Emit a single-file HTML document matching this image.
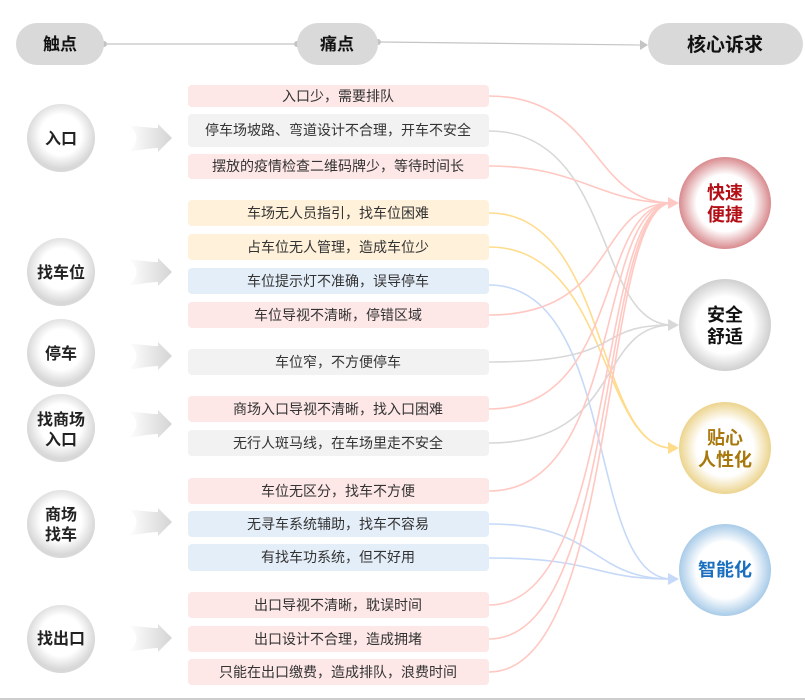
<!DOCTYPE html>
<html><head><meta charset="utf-8"><style>
html,body{margin:0;padding:0;background:#fff;}
svg{display:block;font-family:"Liberation Sans","Noto Sans CJK SC",sans-serif;}
</style></head><body>
<svg width="805" height="700" viewBox="0 0 805 700" xmlns="http://www.w3.org/2000/svg">
<defs>
<radialGradient id="gT" cx="50%" cy="45%" r="50%"><stop offset="60%" stop-color="#fff"/><stop offset="100%" stop-color="#d8d8d8"/></radialGradient>
<radialGradient id="gR" r="50%"><stop offset="62%" stop-color="#fff"/><stop offset="100%" stop-color="#d88a8e"/></radialGradient>
<radialGradient id="gG" r="50%"><stop offset="62%" stop-color="#fff"/><stop offset="100%" stop-color="#cfcfcf"/></radialGradient>
<radialGradient id="gY" r="50%"><stop offset="62%" stop-color="#fff"/><stop offset="100%" stop-color="#ecd48e"/></radialGradient>
<radialGradient id="gB" r="50%"><stop offset="62%" stop-color="#fff"/><stop offset="100%" stop-color="#a8cbe8"/></radialGradient>
<linearGradient id="ga" x1="0" x2="1"><stop offset="0" stop-color="#fff"/><stop offset="1" stop-color="#d4d4d4"/></linearGradient>
</defs>
<line x1="0" y1="699" x2="805" y2="699" stroke="#bbb" stroke-width="1.5"/>
<line x1="104" y1="44" x2="297" y2="44" stroke="#c4c4c4" stroke-width="1.2"/>
<circle cx="104" cy="44" r="3" fill="#c4c4c4"/><circle cx="297" cy="44" r="3" fill="#c4c4c4"/>
<line x1="378" y1="42" x2="640" y2="45" stroke="#c4c4c4" stroke-width="1.2"/>
<circle cx="378" cy="42" r="3" fill="#c4c4c4"/>
<polygon points="640,40 648,45 640,50" fill="#c4c4c4"/>
<rect x="16" y="23" width="88" height="42" rx="21" fill="#d9d9d9"/>
<rect x="297" y="23" width="81" height="42" rx="21" fill="#d9d9d9"/>
<rect x="648" y="23" width="155" height="42" rx="21" fill="#d9d9d9"/>
<g font-weight="bold" font-size="17" fill="#111" text-anchor="middle">
<text x="60" y="50">触点</text><text x="337" y="50">痛点</text><text x="725" y="51" font-size="19">核心诉求</text>
</g>
<g fill="none" stroke-width="1.6">
<path d="M489,96 C600,96 590,203 672,203" stroke="#ffc8c2"/>
<path d="M489,131 C615,131 595,325 672,325" stroke="#d8d8d8"/>
<path d="M489,166 C580,166 600,203 672,203" stroke="#ffc8c2"/>
<path d="M489,213 C610,213 595,448 672,448" stroke="#ffdc8c"/>
<path d="M489,247 C610,247 600,448 672,448" stroke="#ffdc8c"/>
<path d="M489,285 C620,285 585,579 672,579" stroke="#c6d9f8"/>
<path d="M489,315 C620,315 595,203 672,203" stroke="#ffc8c2"/>
<path d="M489,362 C630,362 590,325 672,325" stroke="#d8d8d8"/>
<path d="M489,409 C625,409 595,203 672,203" stroke="#ffc8c2"/>
<path d="M489,443 C625,443 595,325 672,325" stroke="#d8d8d8"/>
<path d="M489,491 C625,491 595,203 672,203" stroke="#ffc8c2"/>
<path d="M489,524 C600,524 590,579 672,579" stroke="#c6d9f8"/>
<path d="M489,558 C600,558 590,579 672,579" stroke="#c6d9f8"/>
<path d="M489,605 C620,605 595,203 672,203" stroke="#ffc8c2"/>
<path d="M489,639 C620,639 598,203 672,203" stroke="#ffc8c2"/>
<path d="M489,672 C620,672 600,203 672,203" stroke="#ffc8c2"/>
</g>
<polygon points="668,197 679,203 668,209" fill="#ffc8c2"/>
<polygon points="668,319 679,325 668,331" fill="#d8d8d8"/>
<polygon points="668,442 679,448 668,454" fill="#ffdc8c"/>
<polygon points="668,573 679,579 668,585" fill="#c6d9f8"/>
<g>
<rect x="188" y="85" width="301" height="22" rx="4" fill="#fde7e7"/>
<rect x="188" y="114" width="301" height="33" rx="4" fill="#f2f2f2"/>
<rect x="188" y="154" width="301" height="25" rx="4" fill="#fde7e7"/>
<rect x="188" y="200" width="301" height="26" rx="4" fill="#fff1da"/>
<rect x="188" y="234" width="301" height="26" rx="4" fill="#fff1da"/>
<rect x="188" y="268" width="301" height="26" rx="4" fill="#e4eef8"/>
<rect x="188" y="302" width="301" height="26" rx="4" fill="#fde7e7"/>
<rect x="188" y="349" width="301" height="26" rx="4" fill="#f2f2f2"/>
<rect x="188" y="396" width="301" height="26" rx="4" fill="#fde7e7"/>
<rect x="188" y="430" width="301" height="26" rx="4" fill="#f2f2f2"/>
<rect x="188" y="478" width="301" height="26" rx="4" fill="#fde7e7"/>
<rect x="188" y="511" width="301" height="26" rx="4" fill="#e4eef8"/>
<rect x="188" y="544" width="301" height="27" rx="4" fill="#e4eef8"/>
<rect x="188" y="592" width="301" height="26" rx="4" fill="#fde7e7"/>
<rect x="188" y="626" width="301" height="26" rx="4" fill="#fde7e7"/>
<rect x="188" y="659" width="301" height="26" rx="4" fill="#fde7e7"/>
</g>
<g font-size="14" fill="#333" text-anchor="middle">
<text x="338" y="101">入口少，需要排队</text>
<text x="338" y="135">停车场坡路、弯道设计不合理，开车不安全</text>
<text x="338" y="171">摆放的疫情检查二维码牌少，等待时间长</text>
<text x="338" y="218">车场无人员指引，找车位困难</text>
<text x="338" y="252">占车位无人管理，造成车位少</text>
<text x="338" y="286">车位提示灯不准确，误导停车</text>
<text x="338" y="320">车位导视不清晰，停错区域</text>
<text x="338" y="367">车位窄，不方便停车</text>
<text x="338" y="414">商场入口导视不清晰，找入口困难</text>
<text x="338" y="448">无行人斑马线，在车场里走不安全</text>
<text x="338" y="496">车位无区分，找车不方便</text>
<text x="338" y="529">无寻车系统辅助，找车不容易</text>
<text x="338" y="562">有找车功系统，但不好用</text>
<text x="338" y="610">出口导视不清晰，耽误时间</text>
<text x="338" y="644">出口设计不合理，造成拥堵</text>
<text x="338" y="677">只能在出口缴费，造成排队，浪费时间</text>
</g>
<g>
<circle cx="61" cy="138" r="34" fill="url(#gT)"/>
<circle cx="61" cy="272" r="34" fill="url(#gT)"/>
<circle cx="61" cy="353" r="34" fill="url(#gT)"/>
<circle cx="61" cy="428" r="34" fill="url(#gT)"/>
<circle cx="61" cy="524" r="34" fill="url(#gT)"/>
<circle cx="61" cy="639" r="34" fill="url(#gT)"/>
</g>
<g fill="url(#ga)">
<path d="M128,125 Q150,128 158,128 L158,124 L172,138 L158,152 L158,148 Q150,148 128,152 Q145,138 128,125Z"/>
<path d="M128,259 Q150,262 158,262 L158,258 L172,272 L158,286 L158,282 Q150,282 128,286 Q145,272 128,259Z"/>
<path d="M128,343 Q150,346 158,346 L158,342 L172,356 L158,370 L158,366 Q150,366 128,370 Q145,356 128,343Z"/>
<path d="M128,411 Q150,414 158,414 L158,410 L172,424 L158,438 L158,434 Q150,434 128,438 Q145,424 128,411Z"/>
<path d="M128,509 Q150,512 158,512 L158,508 L172,522 L158,536 L158,532 Q150,532 128,536 Q145,522 128,509Z"/>
<path d="M128,625 Q150,628 158,628 L158,624 L172,638 L158,652 L158,648 Q150,648 128,652 Q145,638 128,625Z"/>
</g>
<g font-weight="bold" font-size="16" fill="#222" text-anchor="middle">
<text x="61" y="144">入口</text>
<text x="61" y="278">找车位</text>
<text x="61" y="359">停车</text>
<text x="61" y="425">找商场</text><text x="61" y="445">入口</text>
<text x="61" y="520">商场</text><text x="61" y="540">找车</text>
<text x="61" y="644">找出口</text>
</g>
<circle cx="725" cy="203" r="46" fill="url(#gR)"/>
<circle cx="725" cy="325" r="46" fill="url(#gG)"/>
<circle cx="725" cy="448" r="46" fill="url(#gY)"/>
<circle cx="725" cy="570" r="46" fill="url(#gB)"/>
<g font-weight="bold" font-size="18" text-anchor="middle">
<text x="725" y="199" fill="#b40f16">快速</text><text x="725" y="221" fill="#b40f16">便捷</text>
<text x="725" y="321" fill="#111">安全</text><text x="725" y="343" fill="#111">舒适</text>
<text x="725" y="444" fill="#a8780c">贴心</text><text x="725" y="466" fill="#a8780c">人性化</text>
<text x="725" y="576" fill="#1a6fbf">智能化</text>
</g>
</svg>
</body></html>
